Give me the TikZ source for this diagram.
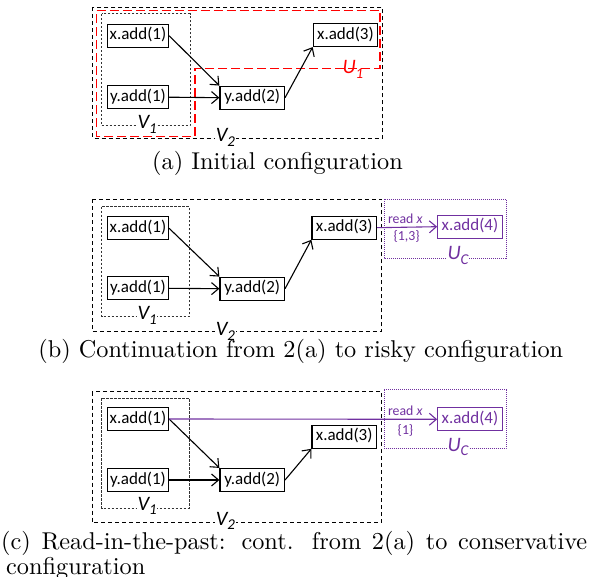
\documentclass[tikz,border=0pt]{standalone}
\usepackage{fontspec}
\newfontfamily\boxfont{Carlito}
\newfontfamily\capfont{lmroman10-regular.otf}
\usetikzlibrary{arrows.meta}
\definecolor{vio}{HTML}{7030A0}
\newcommand\sublab[2]{#1\raisebox{-4.8pt}{\fontsize{15}{16}\selectfont #2}}
\tikzset{
  op/.style={draw, line width=1.2pt, font=\boxfont\fontsize{17}{18}\selectfont,
    inner xsep=1pt, inner ysep=0pt, minimum height=23pt, minimum width=61pt,
    text height=12pt, text depth=3.5pt},
  opw/.style={op, minimum width=64.5pt},
  opv/.style={opw, draw=vio, text=vio},
  vbox/.style={draw=black!80, line width=1pt, dash pattern=on 2.5pt off 1.5pt},
  vtwobox/.style={draw, line width=1pt, dash pattern=on 4pt off 3pt},
  ubox/.style={draw=red, line width=1.2pt, dash pattern=on 9pt off 4pt},
  ucbox/.style={draw=vio, line width=1pt, dash pattern=on 1pt off 1pt},
  lab/.style={anchor=base west, fill=white, inner sep=0.6pt,
    font=\boxfont\itshape\fontsize{20.5}{22}\selectfont},
  arr/.style={-{Straight Barb[length=7pt,width=12pt]}, line width=1.1pt},
  varr/.style={arr, draw=vio},
  captext/.style={font=\capfont\fontsize{24.3}{28}\selectfont, inner sep=0pt},
  rd/.style={text=vio, font=\boxfont\fontsize{13.8}{15}\selectfont, inner sep=0pt}
}
\begin{document}
\begin{tikzpicture}[x=1pt, y=-1pt]
\useasboundingbox (0,0) rectangle (592,577);

% ---------------- (a) ----------------
\draw[vtwobox] (92.3,7.5) rectangle (382.5,138.3);
\draw[ubox] (96.7,10.5) -- (380,10.5) -- (380,68.3) -- (195,68.3) -- (195,136.5) -- (96.7,136.5) -- cycle;
\draw[vbox] (101.7,14) rectangle (190,126);
\node[lab] (aV1) at (136.7,128.3) {\sublab{V}{1}};
\node[lab] (aV2) at (215,141.7) {\sublab{V}{2}};
\node[lab, text=red, fill=none] (aU1) at (341.7,73.3) {\sublab{U}{1}};
\node[op] (ax1) at (138,35.7) {x.add(1)};
\node[op] (ay1) at (138,97.2) {y.add(1)};
\node[opw] (ay2) at (252.2,97.7) {y.add(2)};
\node[opw] (ax3) at (345.5,35) {x.add(3)};
\draw[arr] (ax1.east) -- (ay2.north west);
\draw[arr] (ay1.east) -- (ay2.west);
\draw[arr] (ay2.east) -- (ax3.south west);
\node[captext, anchor=base] (capa) at (277.5,170) {(a) Initial configuration};

% ---------------- (b) ----------------
\draw[vtwobox] (92.3,199.3) rectangle (381.7,331.7);
\draw[vbox] (101.7,206.7) rectangle (189.3,316.7);
\draw[ucbox] (384,199.3) rectangle (506,258.3);
\node[lab] (bV1) at (136.7,320) {\sublab{V}{1}};
\node[lab] (bV2) at (215,336) {\sublab{V}{2}};
\node[lab, text=vio] (bUC) at (446.7,260) {\sublab{U}{C}};
\node[op] (bx1) at (138,228.3) {x.add(1)};
\node[op] (by1) at (138,288.3) {y.add(1)};
\node[opw] (by2) at (252.2,288.7) {y.add(2)};
\node[opw] (bx3) at (344.2,227.7) {x.add(3)};
\node[opv] (bx4) at (470,226.7) {x.add(4)};
\draw[arr] (bx1.east) -- (by2.north west);
\draw[arr] (by1.east) -- (by2.west);
\draw[arr] (by2.east) -- (bx3.south west);
\draw[varr] (bx3.east) -- (bx4.west);
\node[rd, anchor=base] (bread) at (405.3,224) {read \textit{x}};
\node[rd] (bset) at (406.7,236.7) {\{1,3\}};
\node[captext, anchor=base] (capb) at (300.8,357.5) {(b) Continuation from 2(a) to risky configuration};

% ---------------- (c) ----------------
\draw[vtwobox] (92.3,391.7) rectangle (381.7,522.7);
\draw[vbox] (101.7,398.3) rectangle (189.3,508.3);
\draw[ucbox] (384,390) rectangle (506,448.3);
\node[lab] (cV1) at (136.7,510) {\sublab{V}{1}};
\node[lab] (cV2) at (215,525) {\sublab{V}{2}};
\node[lab, text=vio] (cUC) at (446.7,451) {\sublab{U}{C}};
\node[op] (cx1) at (138,419) {x.add(1)};
\node[op] (cy1) at (138,480) {y.add(1)};
\node[opw] (cy2) at (252.2,480) {y.add(2)};
\node[opw] (cx3) at (344.2,436.7) {x.add(3)};
\node[opv] (cx4) at (470,419.3) {x.add(4)};
\draw[arr] (cx1.east) -- (cy2.north west);
\draw[arr] (cy1.east) -- (cy2.west);
\draw[arr] (cy2.east) -- (cx3.south west);
\draw[varr] (cx1.east) -- (cx4.west);
\node[rd, anchor=base] (cread) at (405.3,415) {read \textit{x}};
\node[rd] (cset) at (405.5,430) {\{1\}};
\node[captext, anchor=base west] (capc1) at (1,549) {\makebox[586pt][s]{(c) Read-in-the-past: cont. from 2(a) to conservative}};
\node[captext, anchor=base west] (capc2) at (6,574) {configuration};
\end{tikzpicture}
\end{document}
